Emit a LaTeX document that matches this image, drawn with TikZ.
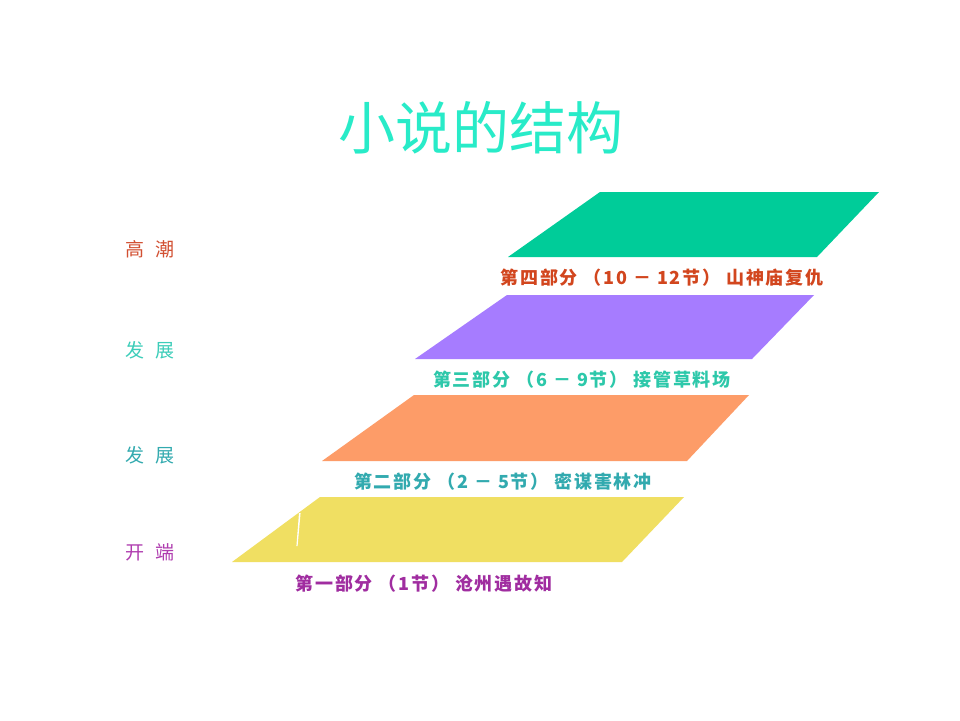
\documentclass[tikz,border=0pt]{standalone}
\usepackage{fontspec}
\newfontfamily\cjk{Noto Sans CJK SC}
\newfontfamily\cjkwide[LetterSpace=10]{Noto Sans CJK SC}
\definecolor{cTitle}{RGB}{40,235,200}
\definecolor{cGreen}{RGB}{0,204,153}
\definecolor{cPurple}{RGB}{166,124,255}
\definecolor{cOrange}{RGB}{253,156,104}
\definecolor{cYellow}{RGB}{240,223,98}
\definecolor{cRed}{RGB}{210,80,50}
\definecolor{cTeal}{RGB}{60,205,185}
\definecolor{cTealB}{RGB}{50,170,175}
\definecolor{cMag}{RGB}{175,60,175}
\definecolor{cPartRed}{RGB}{210,70,30}
\definecolor{cPartTeal}{RGB}{45,200,170}
\definecolor{cPartMag}{RGB}{160,45,160}
\begin{document}
\begin{tikzpicture}[x=1pt,y=-1pt,
  stagelbl/.style={inner sep=0pt,font=\cjk\fontsize{19}{19}\selectfont,anchor=center},
  partlbl/.style={inner sep=0pt,font=\cjkwide\bfseries\fontsize{18}{18}\selectfont,anchor=center},
  band/.style={draw=none}]
\useasboundingbox[fill=white] (0,0) rectangle (960,720);
% title
\node[inner sep=0pt,font=\cjk\fontsize{57}{57}\selectfont,text=cTitle] (title) at (481,128) {小说的结构};
% bands
\fill[cGreen] (600,192) -- (879,192) -- (817,257) -- (508,257) -- cycle;
\fill[cPurple] (507,295) -- (814,295) -- (752,359) -- (415,359) -- cycle;
\fill[cOrange] (414,395) -- (749,395) -- (687,461) -- (322,461) -- cycle;
\fill[cYellow] (320,497) -- (684,497) -- (622,562) -- (232,562) -- cycle;
\fill[white] (299,513) -- (300.6,513) -- (297.6,546) -- (296.4,546) -- cycle;
% stage labels
\node[stagelbl,text=cRed] (s4) at (150,249) {高\hspace{11pt}潮};
\node[stagelbl,text=cTeal] (s3) at (150,350) {发\hspace{11pt}展};
\node[stagelbl,text=cTealB] (s2) at (150,455) {发\hspace{11pt}展};
\node[stagelbl,text=cMag] (s1) at (150,552) {开\hspace{11pt}端};
% part labels
\node[partlbl,text=cPartRed] (p4) at (662,278) {第四部分 （10 － 12节） 山神庙复仇};
\node[partlbl,text=cPartTeal] (p3) at (582,380) {第三部分 （6 － 9节） 接管草料场};
\node[partlbl,text=cTealB] (p2) at (503,482) {第二部分 （2 － 5节） 密谋害林冲};
\node[partlbl,text=cPartMag] (p1) at (424,584) {第一部分 （1节） 沧州遇故知};
\end{tikzpicture}
\end{document}
